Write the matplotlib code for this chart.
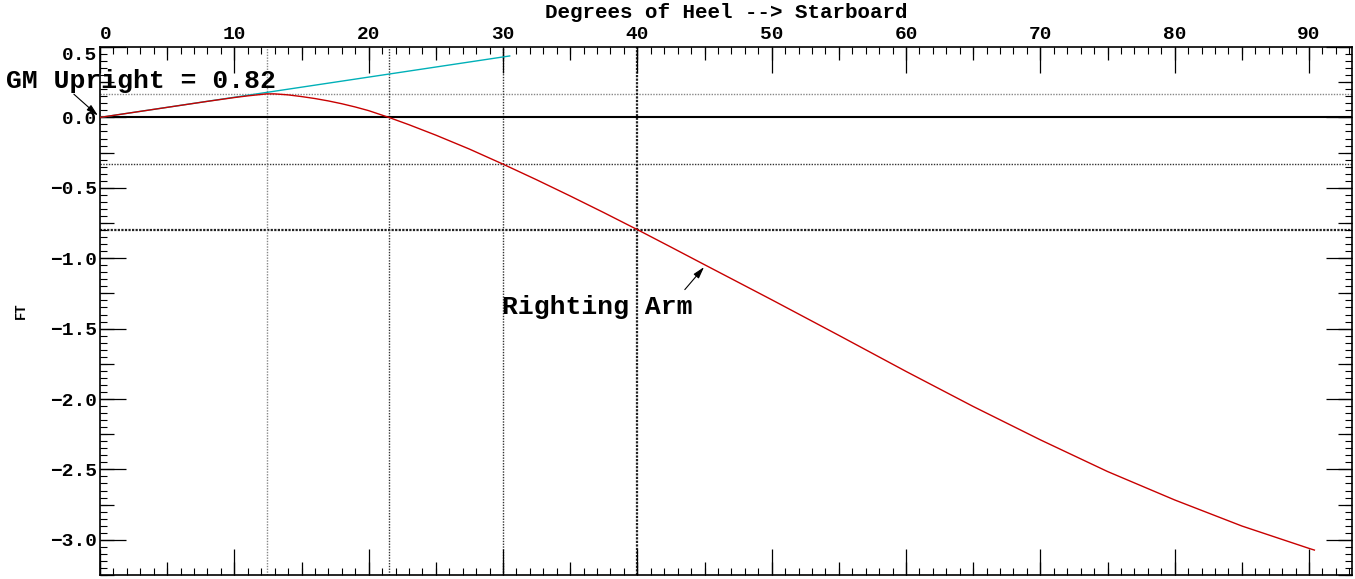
import matplotlib
matplotlib.use('Agg')
import matplotlib.pyplot as plt
from matplotlib.ticker import MultipleLocator
import numpy as np

# righting arm curve (degrees, ft)
heel_deg = [0, 2, 4, 6, 8, 10, 11, 12, 12.4, 13, 14, 15, 16, 17, 18, 19,
            20, 21.5, 23, 25, 27.5, 30, 32.5, 35, 37.5, 40, 42.5, 45,
            50, 55, 60, 65, 70, 75, 80, 85, 90, 90.4]
righting_arm = [0, 0.0286, 0.057, 0.0855, 0.114, 0.141, 0.153, 0.163,
                0.167, 0.167, 0.160, 0.148, 0.134, 0.117, 0.097, 0.074,
                0.048, 0.0, -0.052, -0.126, -0.225, -0.332, -0.443,
                -0.558, -0.676, -0.797, -0.921, -1.046, -1.295, -1.548,
                -1.804, -2.053, -2.290, -2.515, -2.717, -2.902, -3.061,
                -3.073]

# GM tangent line
gm_upright = 0.82
gm_deg = [0, 30.5]
gm_line = [gm_upright * d / 57.3 for d in gm_deg]

# reference lines
vline_x = [12.4, 21.5, 30, 40]
hline_y = [0.166, -0.334, -0.80]

x_ticks = list(range(0, 100, 10))
y_ticks = [0.5, 0.0, -0.5, -1.0, -1.5, -2.0, -2.5, -3.0]

FONT = 'Liberation Mono'
plt.rcParams['font.family'] = [FONT, 'DejaVu Sans']
plt.rcParams['font.weight'] = 'bold'

fig = plt.figure(figsize=(13.55, 5.79), dpi=100)
ax = fig.add_axes([100 / 1355, 4 / 579, 1252 / 1355, 528 / 579])
ax.set_xlim(0, 93.2)
ax.set_ylim(-3.25, 0.5)

# reference grid lines
ax.axhline(0.0, color='black', lw=1.5, zorder=2)
ax.axhline(hline_y[0], color='#888888', lw=1.0, ls=(0, (1, 1)), zorder=1)
ax.axhline(hline_y[1], color='#333333', lw=1.0, ls=(0, (1, 1)), zorder=1)
ax.axhline(hline_y[2], color='#222222', lw=1.6, ls=(0, (1, 0.6)), zorder=1)
ax.axvline(vline_x[0], color='#888888', lw=1.0, ls=(0, (1, 1)), zorder=1)
ax.axvline(vline_x[1], color='#333333', lw=1.0, ls=(0, (1, 1)), zorder=1)
ax.axvline(vline_x[2], color='#333333', lw=1.0, ls=(0, (1, 1)), zorder=1)
ax.axvline(vline_x[3], color='#222222', lw=1.6, ls=(0, (1, 0.6)), zorder=1)

# curves
ax.plot(gm_deg, gm_line, color='#00b0b8', lw=1.0, zorder=3)
ax.plot(heel_deg, righting_arm, color='#c80000', lw=1.0, zorder=4)

# ticks: major / medium / minor, inward on all sides
ax.set_xticks(x_ticks)
ax.set_yticks(y_ticks)
ax.xaxis.set_minor_locator(MultipleLocator(1))
ax.yaxis.set_minor_locator(MultipleLocator(0.05))
ax.tick_params(axis='x', which='both', direction='in', top=True, bottom=True,
               labeltop=True, labelbottom=False)
ax.tick_params(axis='y', which='both', direction='in', left=True, right=True)
ax.tick_params(which='major', length=19, width=0.9, labelsize=14)
ax.tick_params(which='minor', length=5, width=0.8)
ax.tick_params(axis='x', which='major', pad=3)
ax.tick_params(axis='y', which='major', pad=2)

for side in ['top', 'bottom']:
    sec = ax.secondary_xaxis(side)
    sec.set_xticks(list(range(0, 95, 5)))
    sec.tick_params(direction='in', length=9.5, width=0.9,
                    labeltop=False, labelbottom=False)
    for sp in sec.spines.values():
        sp.set_visible(False)
for side in ['left', 'right']:
    sec = ax.secondary_yaxis(side)
    sec.set_yticks(list(np.arange(-3.25, 0.51, 0.25)))
    sec.tick_params(direction='in', length=10, width=0.9,
                    labelleft=False, labelright=False)
    for sp in sec.spines.values():
        sp.set_visible(False)

for sp in ax.spines.values():
    sp.set_linewidth(1.2)

# keep first x label and top y label inside the frame like the original
xl = ax.get_xticklabels()
xl[0].set_horizontalalignment('left')
yl = ax.get_yticklabels()
yl[0].set_verticalalignment('top')

ax.xaxis.set_label_position('top')
ax.set_xlabel('Degrees of Heel --> Starboard', fontsize=15,
              fontweight='bold', labelpad=5.5)
ax.set_ylabel('FT', fontsize=10, fontweight='bold', labelpad=16)

# annotations
ax.text(-7.0, 0.256, 'GM Upright = 0.82', fontsize=19, fontweight='bold',
        ha='left', va='center', clip_on=False)
ax.annotate('', xy=(0, 0), xytext=(-2.1, 0.178), annotation_clip=False,
            arrowprops=dict(arrowstyle='-|>,head_length=0.7,head_width=0.2',
                            color='black', lw=0.8))
ax.text(29.96, -1.344, 'Righting Arm', fontsize=19, fontweight='bold',
        ha='left', va='center')
ax.annotate('', xy=(45.1, -1.048), xytext=(43.4, -1.238),
            arrowprops=dict(arrowstyle='-|>,head_length=0.7,head_width=0.2',
                            color='black', lw=0.8))

plt.savefig('out.png', dpi=100)
plt.close()
